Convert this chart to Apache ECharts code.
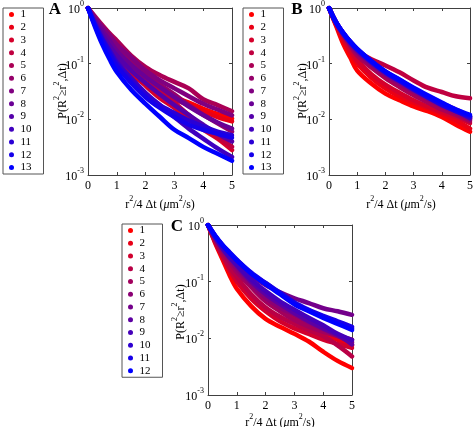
<!DOCTYPE html>
<html><head><meta charset="utf-8">
<script src="https://cdn.jsdelivr.net/npm/echarts@6/dist/echarts.min.js"></script>
<style>html,body{margin:0;padding:0;background:#fff}#c{width:476px;height:427px}</style>
</head><body><div id="c"></div>
<script>
// x positions of the sampled points (r^2/4Δt, µm^2/s)
const xValues = [0, 0.25, 0.5, 0.75, 1, 1.5, 2, 2.5, 3, 3.5, 4, 4.5, 5];
const xTickLabels = ['0', '1', '2', '3', '4', '5'];
const yTickLabels = ['-3', '-2', '-1', '0'];

// Panel A (13 series)
const A1  = [1, 0.55, 0.30, 0.16, 0.090, 0.062, 0.044, 0.033, 0.025, 0.020, 0.0155, 0.0125, 0.0103];
const A2  = [1, 0.56, 0.31, 0.17, 0.100, 0.063, 0.043, 0.031, 0.023, 0.018, 0.0140, 0.0110, 0.0092];
const A3  = [1, 0.58, 0.36, 0.22, 0.140, 0.070, 0.040, 0.024, 0.016, 0.010, 0.0065, 0.0045, 0.0028];
const A4  = [1, 0.62, 0.40, 0.26, 0.170, 0.090, 0.055, 0.033, 0.020, 0.012, 0.0075, 0.0050, 0.0032];
const A5  = [1, 0.70, 0.49, 0.35, 0.260, 0.140, 0.087, 0.062, 0.047, 0.036, 0.0230, 0.0180, 0.0140];
const A6  = [1, 0.62, 0.42, 0.29, 0.200, 0.110, 0.065, 0.042, 0.028, 0.018, 0.0120, 0.0085, 0.0060];
const A7  = [1, 0.66, 0.45, 0.32, 0.220, 0.130, 0.075, 0.050, 0.036, 0.026, 0.0190, 0.0150, 0.0118];
const A8  = [1, 0.60, 0.39, 0.26, 0.170, 0.095, 0.058, 0.038, 0.025, 0.017, 0.0120, 0.0088, 0.0068];
const A9  = [1, 0.55, 0.33, 0.21, 0.140, 0.075, 0.045, 0.028, 0.018, 0.012, 0.0080, 0.0055, 0.0040];
const A10 = [1, 0.50, 0.28, 0.17, 0.110, 0.055, 0.030, 0.018, 0.011, 0.0068, 0.0045, 0.0030, 0.0021];
const A11 = [1, 0.50, 0.28, 0.17, 0.100, 0.050, 0.028, 0.018, 0.013, 0.0095, 0.0075, 0.0060, 0.0052];
const A12 = [1, 0.48, 0.26, 0.15, 0.090, 0.045, 0.025, 0.016, 0.011, 0.0080, 0.0065, 0.0055, 0.0047];
const A13 = [1, 0.45, 0.22, 0.12, 0.071, 0.034, 0.019, 0.011, 0.0065, 0.0046, 0.0032, 0.0024, 0.0018];

// Panel B (13 series)
const B1  = [1, 0.48, 0.23, 0.13, 0.075, 0.044, 0.029, 0.022, 0.017, 0.014, 0.0110, 0.0080, 0.0060];
const B2  = [1, 0.50, 0.27, 0.16, 0.100, 0.056, 0.036, 0.026, 0.020, 0.016, 0.0125, 0.0095, 0.0068];
const B3  = [1, 0.52, 0.30, 0.18, 0.115, 0.065, 0.042, 0.030, 0.022, 0.017, 0.0135, 0.0110, 0.0085];
const B4  = [1, 0.56, 0.34, 0.23, 0.170, 0.120, 0.093, 0.070, 0.050, 0.037, 0.0310, 0.0260, 0.0240];
const B5  = [1, 0.54, 0.33, 0.21, 0.140, 0.085, 0.055, 0.038, 0.027, 0.020, 0.0150, 0.0120, 0.0092];
const B6  = [1, 0.53, 0.33, 0.22, 0.160, 0.095, 0.062, 0.043, 0.031, 0.023, 0.0170, 0.0130, 0.0098];
const B7  = [1, 0.54, 0.34, 0.23, 0.165, 0.100, 0.065, 0.046, 0.033, 0.024, 0.0180, 0.0140, 0.0105];
const B8  = [1, 0.55, 0.35, 0.24, 0.170, 0.105, 0.068, 0.048, 0.034, 0.025, 0.0190, 0.0145, 0.0110];
const B9  = [1, 0.54, 0.35, 0.24, 0.175, 0.105, 0.070, 0.049, 0.035, 0.026, 0.0195, 0.0150, 0.0112];
const B10 = [1, 0.55, 0.36, 0.25, 0.180, 0.110, 0.071, 0.050, 0.034, 0.025, 0.0180, 0.0140, 0.0105];
const B11 = [1, 0.56, 0.36, 0.25, 0.185, 0.110, 0.072, 0.051, 0.036, 0.026, 0.0190, 0.0145, 0.0110];
const B12 = [1, 0.55, 0.35, 0.245, 0.180, 0.108, 0.070, 0.049, 0.035, 0.025, 0.0185, 0.0140, 0.0115];
const B13 = [1, 0.56, 0.36, 0.25, 0.185, 0.112, 0.073, 0.052, 0.037, 0.027, 0.0200, 0.0150, 0.0120];

// Panel C (12 series)
const C1  = [1, 0.48, 0.25, 0.13, 0.075, 0.037, 0.022, 0.016, 0.012, 0.0088, 0.0058, 0.0040, 0.0030];
const C2  = [1, 0.62, 0.40, 0.27, 0.190, 0.100, 0.055, 0.033, 0.022, 0.016, 0.0120, 0.0095, 0.0075];
const C3  = [1, 0.50, 0.28, 0.16, 0.100, 0.050, 0.030, 0.020, 0.015, 0.012, 0.0095, 0.0080, 0.0068];
const C4  = [1, 0.52, 0.30, 0.18, 0.120, 0.060, 0.035, 0.024, 0.018, 0.014, 0.0110, 0.0075, 0.0048];
const C5  = [1, 0.56, 0.34, 0.22, 0.150, 0.080, 0.045, 0.030, 0.021, 0.016, 0.0130, 0.0110, 0.0095];
const C6  = [1, 0.58, 0.37, 0.25, 0.170, 0.090, 0.052, 0.035, 0.026, 0.019, 0.0145, 0.0110, 0.0085];
const C7  = [1, 0.62, 0.42, 0.30, 0.220, 0.130, 0.087, 0.065, 0.051, 0.042, 0.0340, 0.0300, 0.0260];
const C8  = [1, 0.60, 0.39, 0.27, 0.190, 0.100, 0.060, 0.040, 0.028, 0.020, 0.0150, 0.0115, 0.0078];
const C9  = [1, 0.60, 0.39, 0.27, 0.200, 0.110, 0.068, 0.045, 0.032, 0.023, 0.0170, 0.0120, 0.0093];
const C10 = [1, 0.64, 0.44, 0.32, 0.240, 0.140, 0.094, 0.062, 0.041, 0.031, 0.0240, 0.0190, 0.0150];
const C11 = [1, 0.65, 0.45, 0.33, 0.245, 0.145, 0.095, 0.064, 0.043, 0.032, 0.0250, 0.0200, 0.0160];
const C12 = [1, 0.64, 0.44, 0.32, 0.235, 0.140, 0.090, 0.060, 0.040, 0.030, 0.0230, 0.0180, 0.0140];

const panelA = [A1, A2, A3, A4, A5, A6, A7, A8, A9, A10, A11, A12, A13];
const panelB = [B1, B2, B3, B4, B5, B6, B7, B8, B9, B10, B11, B12, B13];
const panelC = [C1, C2, C3, C4, C5, C6, C7, C8, C9, C10, C11, C12];

const FONT = 'Liberation Serif';
const AX = '#404040';

function gradColor(i, n) {
  const t = n > 1 ? i / (n - 1) : 0;
  return 'rgb(' + Math.round(255 * (1 - t)) + ',0,' + Math.round(255 * t) + ')';
}

const panels = [
  { key: 'A', data: panelA, grid: { left: 88, top: 8, width: 144, height: 167 },
    legend: { left: 3, top: 8 } },
  { key: 'B', data: panelB, grid: { left: 329, top: 8, width: 144, height: 167 },
    legend: { left: 243, top: 8 } },
  { key: 'C', data: panelC, grid: { left: 208, top: 225, width: 144, height: 170 },
    legend: { left: 122, top: 224 } }
];

const supRich = {
  n: { fontFamily: FONT, fontSize: 12, color: '#000', lineHeight: 16, verticalAlign: 'bottom' },
  s: { fontFamily: FONT, fontSize: 8, color: '#000', lineHeight: 16, verticalAlign: 'top' },
  i: { fontFamily: FONT, fontSize: 12, fontStyle: 'italic', color: '#000', lineHeight: 16, verticalAlign: 'bottom' }
};

const grids = [], xAxes = [], yAxes = [], series = [], legends = [];
panels.forEach((p, gi) => {
  grids.push(Object.assign({ show: false }, p.grid));
  const xBase = {
    gridIndex: gi, type: 'value', min: 0, max: 5, interval: 1,
    axisLine: { show: true, onZero: false, lineStyle: { color: AX, width: 1 } },
    axisTick: { show: true, inside: true, length: 3, lineStyle: { color: AX } },
    splitLine: { show: false }
  };
  xAxes.push(Object.assign({}, xBase, {
    position: 'bottom',
    axisLabel: { show: true, margin: 5, fontFamily: FONT, fontSize: 12, color: '#000',
      formatter: v => xTickLabels[Math.round(v)] }
  }));
  xAxes.push(Object.assign({}, xBase, { position: 'top', axisLabel: { show: false } }));
  const yBase = {
    gridIndex: gi, type: 'log', logBase: 10, min: 0.001, max: 1, interval: 1,
    axisLine: { show: true, onZero: false, lineStyle: { color: AX, width: 1 } },
    axisTick: { show: true, inside: true, length: 3, lineStyle: { color: AX } },
    splitLine: { show: false }
  };
  yAxes.push(Object.assign({}, yBase, {
    position: 'left',
    axisLabel: { show: true, margin: 4,
      formatter: v => '{n|10}{s|' + yTickLabels[Math.round(Math.log10(v)) + 3] + '}',
      rich: supRich }
  }));
  yAxes.push(Object.assign({}, yBase, { position: 'right', axisLabel: { show: false } }));
  const names = [];
  p.data.forEach((arr, si) => {
    const name = p.key + (si + 1);
    names.push(name);
    const col = gradColor(si, p.data.length);
    series.push({
      name: name, type: 'line', xAxisIndex: gi * 2, yAxisIndex: gi * 2,
      data: xValues.map((x, k) => [x, arr[k]]),
      smooth: 0.35, symbol: 'none', clip: true,
      lineStyle: { color: col, width: 4.5, cap: 'round', join: 'round' },
      itemStyle: { color: col },
      emphasis: { disabled: true }
    });
  });
  legends.push({
    data: names, orient: 'vertical', left: p.legend.left, top: p.legend.top,
    icon: 'circle', itemWidth: 8, itemHeight: 5, itemGap: 1.75,
    padding: [1, 7, 1, 6], borderColor: '#555', borderWidth: 1,
    selectedMode: false,
    formatter: n => n.slice(1),
    textStyle: { fontFamily: FONT, fontSize: 11, lineHeight: 10, color: '#000', width: 16 }
  });
});

function txt(x, y, text, extra) {
  return Object.assign({
    type: 'text', x: x, y: y,
    style: { text: text, rich: supRich, textAlign: 'center', textVerticalAlign: 'middle' }
  }, extra || {});
}
const yLabel = '{n|P(R}{s|2}{n|≥r}{s|2}{n|,Δt)}';
const xLabel = '{n|r}{s|2}{n|/4 Δt (}{i|μ}{n|m}{s|2}{n|/s)}';
const letterStyle = (t) => ({ text: t, font: 'bold 17px "Liberation Serif"', fill: '#000', textAlign: 'center', textVerticalAlign: 'middle' });

const graphic = [
  { type: 'text', x: 55, y: 10, style: letterStyle('A') },
  { type: 'text', x: 297, y: 10, style: letterStyle('B') },
  { type: 'text', x: 177, y: 227, style: letterStyle('C') },
  txt(61, 91, yLabel, { rotation: Math.PI / 2 }),
  txt(301, 91, yLabel, { rotation: Math.PI / 2 }),
  txt(179, 312, yLabel, { rotation: Math.PI / 2 }),
  txt(160, 203, xLabel),
  txt(401, 203, xLabel),
  txt(280, 421, xLabel)
];

const chart = echarts.init(document.getElementById('c'), null, { renderer: 'canvas' });
chart.setOption({
  animation: false,
  backgroundColor: '#fff',
  grid: grids, xAxis: xAxes, yAxis: yAxes, series: series, legend: legends,
  graphic: graphic
});
</script></body></html>
